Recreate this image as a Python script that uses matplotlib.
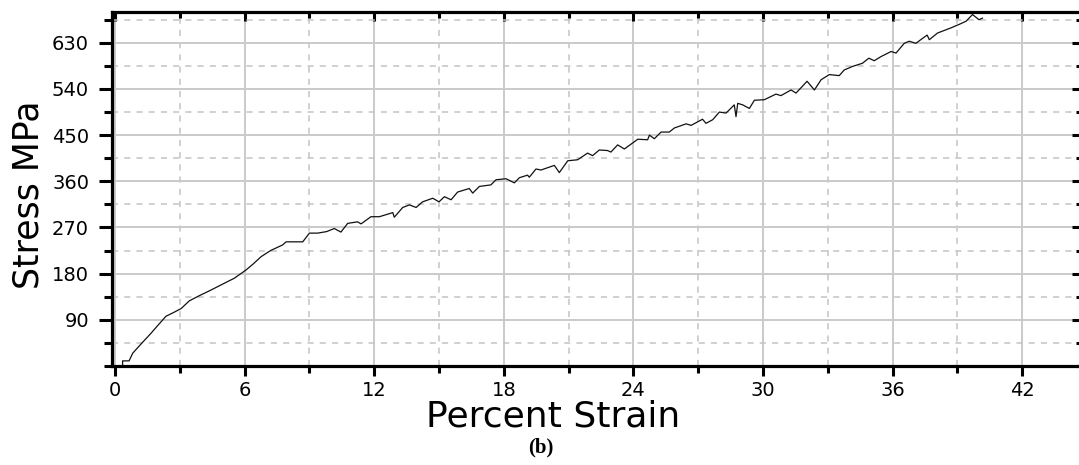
import matplotlib.pyplot as plt
from matplotlib.ticker import MultipleLocator, FixedLocator

# stress-strain curve
strain = [0.35, 0.35, 0.65, 0.82, 1.25, 1.67, 2.0, 2.36, 2.7, 3.06, 3.44, 3.9, 4.44,
          5.0, 5.52, 6.06, 6.4, 6.76, 7.2, 7.76, 7.92, 8.69, 9.0, 9.38, 9.8, 10.15,
          10.46, 10.77, 11.23, 11.39, 11.85, 12.24, 12.86, 12.93, 13.32, 13.63,
          13.94, 14.24, 14.71, 15.0, 15.25, 15.56, 15.86, 16.4, 16.56, 16.87, 17.4,
          17.64, 18.1, 18.49, 18.72, 19.1, 19.18, 19.49, 19.72, 20.34, 20.57, 20.96,
          21.42, 21.88, 22.11, 22.42, 22.8, 22.96, 23.27, 23.58, 24.04, 24.2, 24.66,
          24.74, 24.97, 25.28, 25.66, 25.9, 26.44, 26.67, 27.2, 27.36, 27.67, 27.98,
          28.29, 28.67, 28.75, 28.83, 29.06, 29.37, 29.6, 30.06, 30.6, 30.83, 31.3,
          31.53, 32.04, 32.38, 32.69, 33.07, 33.53, 33.76, 34.15, 34.6, 34.9, 35.15,
          35.46, 35.93, 36.16, 36.54, 36.77, 37.08, 37.4, 37.6, 37.7, 38.08, 38.7,
          39.09, 39.4, 39.7, 40.0, 40.16]
stress = [0, 10, 10, 25, 45, 64, 80, 97, 104, 112, 127, 137, 148,
          160, 171, 187, 199, 213, 225, 236, 242, 242, 259, 259, 262, 268,
          261, 278, 281, 277, 291, 291, 299, 290, 309, 314,
          309, 320, 327, 320, 330, 324, 339, 346, 337, 350, 353,
          363, 365, 357, 367, 372, 368, 384, 382, 391, 377, 400,
          402, 415, 410, 421, 420, 417, 431, 423, 437, 442, 441,
          450, 443, 456, 456, 464, 472, 469, 481, 473, 480, 495,
          493, 509, 486, 512, 509, 502, 518, 519, 530, 527, 538,
          532, 555, 538, 558, 568, 566, 577, 584, 590, 600, 595,
          603, 613, 610, 629, 633, 629, 639, 645, 636, 649, 659,
          666, 672, 685, 675, 678]

x_major = [0, 6, 12, 18, 24, 30, 36, 42]
y_major = [90, 180, 270, 360, 450, 540, 630]

fig = plt.figure(figsize=(10.79, 4.65), dpi=100)
ax = fig.add_axes([112 / 1079, 1 - 366 / 465, 1 - 112 / 1079, (366 - 12) / 465])

ax.plot(strain, stress, color='#111111', lw=0.9)

ax.set_xlim(-0.14, 44.63)
ax.set_ylim(0, 690)
ax.xaxis.set_major_locator(FixedLocator(x_major))
ax.xaxis.set_minor_locator(MultipleLocator(3))
ax.yaxis.set_major_locator(FixedLocator(y_major))
ax.yaxis.set_minor_locator(MultipleLocator(45))

ax.grid(which='major', color='#cacaca', lw=1.4, ls='-')
ax.grid(which='minor', color='#c4c4c4', lw=1.1, ls=(0, (4, 4)))
ax.set_axisbelow(True)

for side in ['left', 'bottom', 'top']:
    ax.spines[side].set_linewidth(2.3)
ax.spines['right'].set_visible(False)

ax.tick_params(axis='x', which='both', bottom=True, top=True, direction='out', width=2.2,
               labelsize=14, pad=3)
ax.tick_params(axis='x', which='major', length=7.5)
ax.tick_params(axis='x', which='minor', length=5)
ax.tick_params(axis='y', which='both', left=True, right=True, direction='out', width=2.2,
               labelsize=14, pad=7)
ax.tick_params(axis='y', which='major', length=9.5)
ax.tick_params(axis='y', which='minor', length=6)
# top and right ticks point inward (right ones are cut by the image edge)
for t in ax.xaxis.get_major_ticks():
    t.tick2line.set_marker(3)
    t.tick2line.set_markersize(6.5)
for t in ax.xaxis.get_minor_ticks():
    t.tick2line.set_marker(3)
    t.tick2line.set_markersize(4.3)
for t in ax.yaxis.get_major_ticks():
    t.tick2line.set_marker(0)
    t.tick2line.set_markersize(5)
for t in ax.yaxis.get_minor_ticks():
    t.tick2line.set_marker(0)
    t.tick2line.set_markersize(2.2)

ax.set_xlabel('Percent Strain', fontsize=26, labelpad=0, x=0.456)
ax.set_ylabel('Stress MPa', fontsize=25, labelpad=5, y=0.483)

fig.text(541 / 1079, 1 - 447 / 465, '(b)', family='Liberation Serif', weight='bold',
         fontsize=15, ha='center', va='center')

fig.savefig('out.png', dpi=100)
